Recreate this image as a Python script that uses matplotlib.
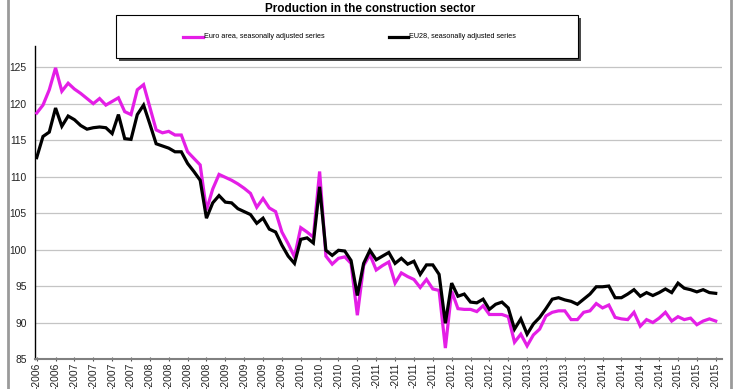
import numpy as np
import pandas as pd
import matplotlib
matplotlib.use("Agg")
import matplotlib.pyplot as plt
from matplotlib.patches import Rectangle
from matplotlib.lines import Line2D

plt.rcParams['font.family'] = ['Liberation Sans', 'DejaVu Sans']

title = "Production in the construction sector"
series_names = ["Euro area, seasonally adjusted series", "EU28, seasonally adjusted series"]
months = pd.period_range("2006-07", "2015-07", freq="M")

euro_area = [
    118.7, 119.8, 121.9, 124.9, 121.7, 122.8, 122.0, 121.4, 120.7, 120.0,
    120.7, 119.8, 120.3, 120.8, 118.9, 118.5, 121.9, 122.6, 119.5, 116.4,
    116.0, 116.2, 115.7, 115.7, 113.4, 112.5, 111.6, 105.4, 108.3, 110.3,
    109.9, 109.5, 109.0, 108.4, 107.7, 105.8, 107.0, 105.7, 105.2, 102.4,
    100.8, 99.0, 103.0, 102.4, 101.7, 110.7, 99.1, 98.0, 98.8, 99.0,
    98.1, 91.0, 97.8, 99.3, 97.2, 97.8, 98.3, 95.4, 96.8, 96.3,
    95.9, 94.8, 95.9, 94.6, 94.4, 86.5, 94.3, 91.9, 91.8, 91.8,
    91.5, 92.3, 91.1, 91.1, 91.1, 90.8, 87.3, 88.4, 86.8, 88.3,
    89.1, 90.9, 91.4, 91.6, 91.6, 90.4, 90.4, 91.4, 91.6, 92.6,
    92.0, 92.4, 90.7, 90.5, 90.4, 91.4, 89.5, 90.4, 90.0, 90.6,
    91.4, 90.2, 90.8, 90.4, 90.6, 89.7, 90.2, 90.5, 90.2,
]
eu28 = [
    112.6, 115.5, 116.1, 119.4, 116.9, 118.3, 117.8, 117.0, 116.5, 116.7,
    116.8, 116.7, 115.9, 118.5, 115.2, 115.1, 118.5, 119.8, 117.2, 114.5,
    114.2, 113.9, 113.4, 113.4, 111.8, 110.7, 109.5, 104.3, 106.4, 107.4,
    106.5, 106.4, 105.6, 105.2, 104.8, 103.6, 104.3, 102.8, 102.4, 100.6,
    99.1, 98.1, 101.4, 101.6, 100.9, 108.6, 99.9, 99.2, 99.9, 99.8,
    98.5, 93.7, 98.1, 99.9, 98.6, 99.1, 99.6, 98.1, 98.8, 98.0,
    98.4, 96.6, 97.9, 97.9, 96.6, 89.9, 95.4, 93.6, 93.9, 92.8,
    92.7, 93.2, 91.8, 92.5, 92.8, 92.0, 89.1, 90.5, 88.4, 89.8,
    90.7, 91.9, 93.2, 93.4, 93.1, 92.9, 92.5, 93.2, 93.9, 94.9,
    94.9, 95.0, 93.4, 93.4, 93.9, 94.5, 93.6, 94.1, 93.7, 94.1,
    94.6, 94.1, 95.4, 94.7, 94.5, 94.2, 94.5, 94.1, 94.0,
]
y_ticks = [85, 90, 95, 100, 105, 110, 115, 120, 125]
# the reference shows only the year part of each quarterly label
tick_labels = [p.strftime('-%Y') for p in months[::3]]

W, H = 740, 389
fig = plt.figure(figsize=(W / 100, H / 100), dpi=100)

def fx(px):
    return px / W

def fy(py):
    return 1 - py / H

ax = fig.add_axes([fx(35), fy(359), fx(722) - fx(35), fy(46) - fy(359)])

x = np.arange(len(months))
c_mag = '#e41ee6'
ax.plot(x, euro_area, color=c_mag, lw=2.3, solid_joinstyle='miter', zorder=3)
ax.plot(x, eu28, color='black', lw=2.3, solid_joinstyle='miter', zorder=4)

ax.set_xlim(-0.27, 109.0)
ax.set_ylim(85, 127.9)
ax.set_yticks(y_ticks)
ax.set_yticklabels([str(v) for v in y_ticks])
ax.yaxis.grid(True, color='#c4c4c4', lw=0.9)
ax.set_axisbelow(True)

ax.set_xticks(x[::3])
ax.set_xticklabels(tick_labels, rotation=90, va='top', ha='center')

ax.tick_params(axis='y', length=0, pad=6, labelsize=7.4, labelcolor='#222222')
ax.tick_params(axis='x', length=3, width=0.8, color='#555555', pad=1,
               labelsize=7.4, labelcolor='#222222', direction='inout')

for s in ['top', 'right']:
    ax.spines[s].set_visible(False)
ax.spines['left'].set_color('black')
ax.spines['left'].set_linewidth(1.0)
ax.spines['bottom'].set_color('#808080')
ax.spines['bottom'].set_linewidth(1.5)

# outer frame (only verticals visible)
for px in (8, 731):
    fig.add_artist(Line2D([fx(px), fx(px)], [0, 1], transform=fig.transFigure,
                          color='#9a9a9a', lw=2.0))

# title at the very top
fig.text(0.5, fy(12), title, ha='center', va='baseline', fontsize=8.5,
         fontweight='bold', color='black')

# legend box with shadow
fig.add_artist(Rectangle((fx(119), fy(61)), fx(578) - fx(116), fy(15) - fy(58),
                         transform=fig.transFigure, facecolor='#4a4a4a',
                         edgecolor='none', zorder=5))
fig.add_artist(Rectangle((fx(116), fy(58)), fx(578) - fx(116), fy(15) - fy(58),
                         transform=fig.transFigure, facecolor='white',
                         edgecolor='black', lw=0.8, zorder=6))
ly = fy(37)
fig.add_artist(Line2D([fx(183), fx(203)], [ly, ly], transform=fig.transFigure,
                      color=c_mag, lw=2.3, zorder=7))
fig.text(fx(204), ly, series_names[0], ha='left', va='center', fontsize=5.2,
         zorder=7)
fig.add_artist(Line2D([fx(389), fx(408)], [ly, ly], transform=fig.transFigure,
                      color='black', lw=2.3, zorder=7))
fig.text(fx(409), ly, series_names[1], ha='left', va='center', fontsize=5.2,
         zorder=7)

fig.savefig('out.png', dpi=100)
